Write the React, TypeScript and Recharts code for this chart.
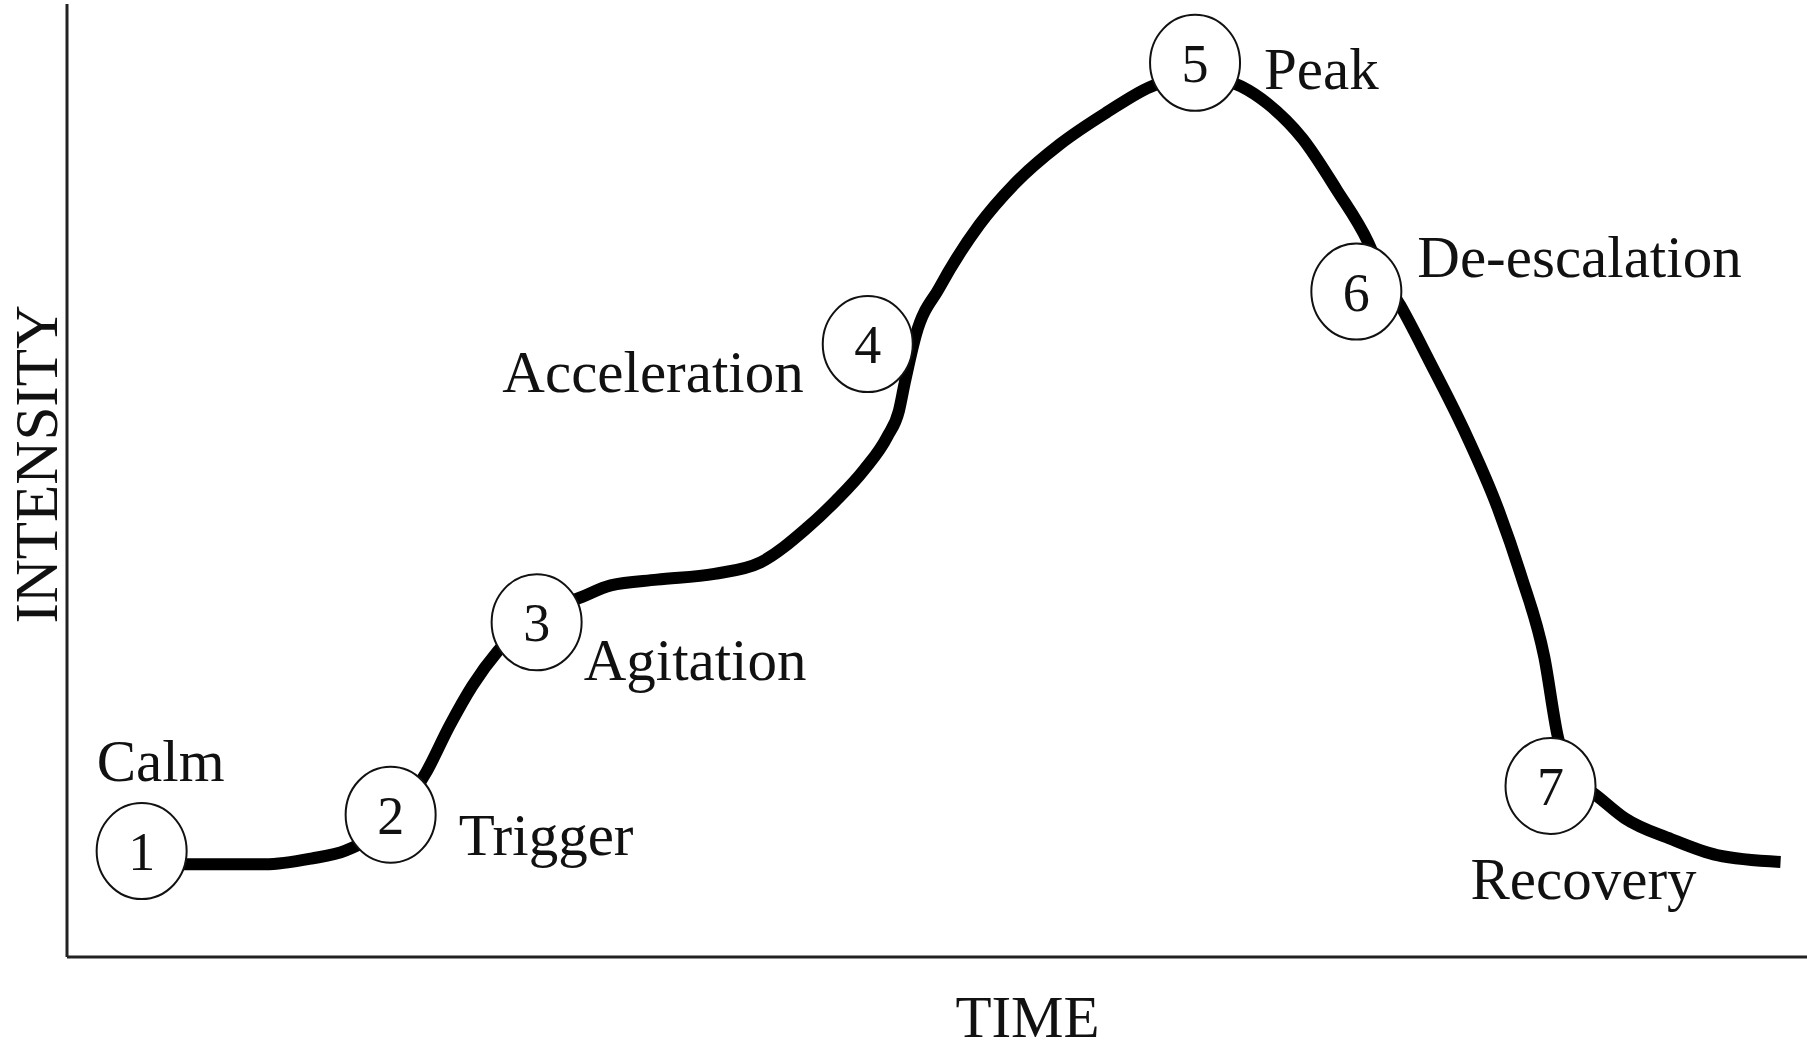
import React from 'react';
import { ComposedChart, Line, Scatter, XAxis, YAxis, Label } from 'recharts';

// Curve of intensity over time (0-100 scales)
const curveTime = [4.3, 6.75, 11.38, 14.03, 16.02, 18.67, 20.65, 21.98, 23.3, 24.76, 26.95, 29.6, 31.25, 33.9, 37.21, 39.86, 42.51, 44.2, 45.8, 47.14, 47.81, 48.14, 48.8, 50.13, 52.44, 54.43, 57.08, 59.73, 62.25, 64.83, 67.48, 69.0, 70.99, 72.98, 74.77, 75.63, 76.62, 78.28, 80.26, 82.25, 83.57, 84.9, 85.69, 86.55, 87.88, 89.53, 92.18, 94.83, 98.48];
const curveIntensity = [9.7, 9.73, 9.73, 10.33, 11.17, 14.32, 19.4, 24.24, 28.47, 32.1, 35.73, 37.79, 39.0, 39.6, 40.2, 41.41, 45.0, 47.9, 51.1, 54.6, 57.3, 60.2, 65.36, 70.2, 76.85, 81.08, 85.31, 88.6, 91.3, 92.56, 91.35, 89.54, 85.91, 80.47, 75.03, 71.4, 68.38, 62.6, 55.4, 47.0, 40.0, 31.49, 23.03, 18.8, 16.98, 14.56, 12.38, 10.69, 9.97];

// Stages
const stageNumbers = ['1', '2', '3', '4', '5', '6', '7'];
const stageNames = ['Calm', 'Trigger', 'Agitation', 'Acceleration', 'Peak', 'De-escalation', 'Recovery'];
const stageTime = [4.29, 18.6, 26.99, 46.02, 64.83, 74.1, 85.26];
const stageIntensity = [11.12, 14.93, 35.12, 64.32, 93.83, 69.82, 17.95];

const lineData = curveTime.map((t, i) => ({ t, v: curveIntensity[i] }));
const stageData = stageTime.map((t, i) => ({ t, v: stageIntensity[i], num: stageNumbers[i], name: stageNames[i] }));

// label placement relative to marker (styling)
const labelLayout: Record<string, { dx: number; dy: number; anchor: 'start' | 'middle' | 'end' }> = {
  Calm: { dx: 19, dy: -70, anchor: 'middle' },
  Trigger: { dx: 68, dy: 40, anchor: 'start' },
  Agitation: { dx: 47, dy: 58, anchor: 'start' },
  Acceleration: { dx: -64, dy: 48, anchor: 'end' },
  Peak: { dx: 69, dy: 26, anchor: 'start' },
  'De-escalation': { dx: 61, dy: -15, anchor: 'start' },
  Recovery: { dx: 33, dy: 113, anchor: 'middle' },
};

const FONT = '"Liberation Serif", "DejaVu Serif", serif';
const INK = '#111';

const StageMarker = (props: any) => {
  const { cx, cy, payload } = props;
  if (cx == null || cy == null) return null;
  const lay = labelLayout[payload.name];
  return (
    <g>
      <ellipse cx={cx} cy={cy} rx={45} ry={48} fill="#fff" stroke={INK} strokeWidth={2} />
      <text x={cx} y={cy + 19} textAnchor="middle" fontFamily={FONT} fontSize={54} fill={INK}>
        {payload.num}
      </text>
      <text x={cx + lay.dx} y={cy + lay.dy} textAnchor={lay.anchor} fontFamily={FONT} fontSize={59} fill={INK}>
        {payload.name}
      </text>
    </g>
  );
};

export default function App() {
  return (
    <div style={{ position: 'absolute', left: 0, top: 0, background: '#fff' }}>
      <ComposedChart width={1807} height={1054} margin={{ top: 4, right: 0, bottom: 0, left: 0 }}>
        <XAxis
          type="number"
          dataKey="t"
          domain={[0, 100]}
          ticks={[]}
          tick={false}
          tickLine={false}
          height={97}
          axisLine={{ stroke: '#222', strokeWidth: 3 }}
          allowDataOverflow
        >
          <Label
            content={(p: any) => {
              const vb = p.viewBox;
              return (
                <text x={vb.x + vb.width * 0.552} y={vb.y + 80} textAnchor="middle" fontFamily={FONT} fontSize={59} fill={INK}>
                  TIME
                </text>
              );
            }}
          />
        </XAxis>
        <YAxis
          type="number"
          dataKey="v"
          domain={[0, 100]}
          ticks={[]}
          tick={false}
          tickLine={false}
          width={67}
          axisLine={{ stroke: '#222', strokeWidth: 3 }}
          allowDataOverflow
        >
          <Label
            content={(p: any) => {
              const vb = p.viewBox;
              const x = vb.x + 57;
              const y = vb.y + vb.height * 0.483;
              return (
                <text x={x} y={y} transform={`rotate(-90 ${x} ${y})`} textAnchor="middle" fontFamily={FONT} fontSize={61} fill={INK}>
                  INTENSITY
                </text>
              );
            }}
          />
        </YAxis>
        <Line
          data={lineData}
          dataKey="v"
          type="monotone"
          stroke="#000"
          strokeWidth={12}
          dot={false}
          activeDot={false}
          isAnimationActive={false}
        />
        <Scatter data={stageData} dataKey="v" shape={<StageMarker />} isAnimationActive={false} />
      </ComposedChart>
    </div>
  );
}
